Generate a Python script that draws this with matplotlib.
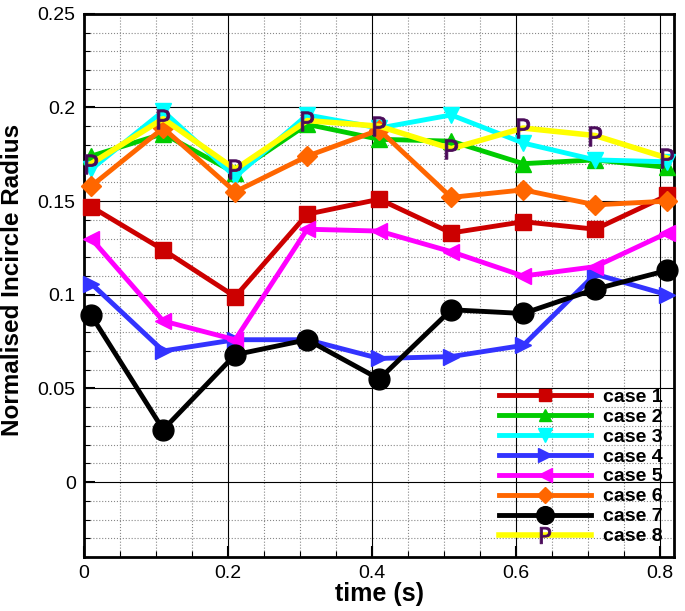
import matplotlib
matplotlib.use("Agg")
import matplotlib.pyplot as plt
from matplotlib.ticker import MultipleLocator, FuncFormatter

plt.rcParams['font.family'] = ['Liberation Sans', 'DejaVu Sans']

time_s = [0.01, 0.11, 0.21, 0.31, 0.41, 0.51, 0.61, 0.71, 0.81]
case1 = [0.147, 0.124, 0.099, 0.143, 0.151, 0.133, 0.139, 0.135, 0.153]
case2 = [0.174, 0.186, 0.165, 0.191, 0.183, 0.182, 0.170, 0.172, 0.168]
case3 = [0.167, 0.198, 0.163, 0.196, 0.189, 0.196, 0.181, 0.172, 0.171]
case4 = [0.106, 0.070, 0.076, 0.076, 0.066, 0.067, 0.073, 0.111, 0.100]
case5 = [0.130, 0.086, 0.076, 0.135, 0.134, 0.123, 0.110, 0.115, 0.133]
case6 = [0.158, 0.189, 0.155, 0.174, 0.188, 0.152, 0.156, 0.148, 0.150]
case7 = [0.089, 0.028, 0.068, 0.076, 0.055, 0.092, 0.090, 0.103, 0.113]
case8 = [0.170, 0.194, 0.167, 0.193, 0.190, 0.178, 0.189, 0.185, 0.173]

labels = ['case 1', 'case 2', 'case 3', 'case 4', 'case 5', 'case 6', 'case 7', 'case 8']
series = [case1, case2, case3, case4, case5, case6, case7, case8]
colors = ['#cc0000', '#00cc00', '#00ffff', '#3333ff', '#ff00ff', '#ff6600', '#000000', '#ffff00']
markers = ['s', '^', 'v', '>', '<', 'D', 'o', r'$\mathsf{P}$']
msizes = [11, 11, 12, 12, 12, 10, 15, 14]

fig = plt.figure(figsize=(6.85, 6.11), dpi=100)
ax = fig.add_axes([0.1226, 0.0884, 0.862, 0.889])

for i, (y, lab, c, m, ms) in enumerate(zip(series, labels, colors, markers, msizes)):
    if i == 7:
        ax.plot(time_s, y, color=c, lw=4, marker=m, ms=ms, mfc='#4a0a5a', mec='#4a0a5a',
                mew=0.6, label=lab, zorder=3 + i, clip_on=False)
    else:
        ax.plot(time_s, y, color=c, lw=3.5, marker=m, ms=ms, mfc=c, mec=c,
                label=lab, zorder=3 + i, clip_on=False)

ax.set_xlim(0, 0.82)
ax.set_ylim(-0.04, 0.25)
ax.xaxis.set_major_locator(MultipleLocator(0.2))
ax.xaxis.set_minor_locator(MultipleLocator(0.05))
ax.yaxis.set_major_locator(MultipleLocator(0.05))
ax.yaxis.set_minor_locator(MultipleLocator(0.01))
fmt = FuncFormatter(lambda v, p: ('%g' % round(v, 4)))
ax.xaxis.set_major_formatter(fmt)
ax.yaxis.set_major_formatter(fmt)

ax.grid(which='major', color='black', lw=0.8, ls='-')
ax.grid(which='minor', color='#888888', lw=0.8, ls=':')
ax.set_axisbelow(True)
ax.tick_params(which='major', direction='in', length=8, width=1.5, labelsize=14, pad=6)
ax.tick_params(which='minor', direction='in', length=4, width=0.8)
for s in ax.spines.values():
    s.set_linewidth(2)

ax.set_xlabel('time (s)', fontsize=18, fontweight='bold', labelpad=0)
ax.set_ylabel('Normalised Incircle Radius', fontsize=17.5, fontweight='bold')
ax.yaxis.set_label_coords(-0.102, 0.51)

leg = ax.legend(loc='lower right', frameon=False, prop={'weight': 'bold', 'size': 14},
                handlelength=4.7, labelspacing=0.12, borderaxespad=0.2, handletextpad=0.65,
                markerscale=0.85)

fig.savefig('out.png', dpi=100)
